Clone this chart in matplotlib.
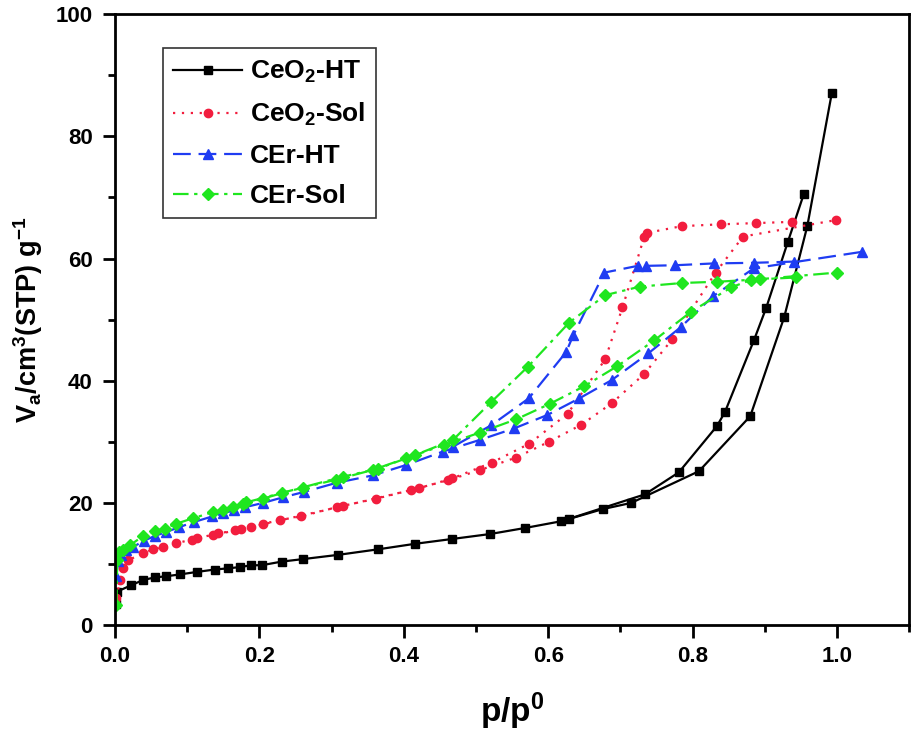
import matplotlib
matplotlib.use('Agg')
import matplotlib.pyplot as plt

plt.rcParams['font.family'] = 'Liberation Sans'
plt.rcParams['font.weight'] = 'bold'
plt.rcParams['mathtext.fontset'] = 'custom'
plt.rcParams['mathtext.rm'] = 'Liberation Sans:bold'
plt.rcParams['mathtext.bf'] = 'Liberation Sans:bold'
plt.rcParams['mathtext.it'] = 'Liberation Sans:bold'
plt.rcParams['mathtext.default'] = 'bf'

# CeO2-HT
ceo2_ht_ads_x = [0.001, 0.003, 0.022, 0.039, 0.055, 0.071, 0.090, 0.113, 0.138, 0.157, 0.173, 0.189,
                 0.203, 0.231, 0.260, 0.309, 0.364, 0.415, 0.467, 0.519, 0.568, 0.618, 0.676, 0.715,
                 0.809, 0.880, 0.927, 0.959, 0.993]
ceo2_ht_ads_y = [3.5, 5.5, 6.5, 7.4, 7.8, 8.0, 8.3, 8.7, 9.1, 9.3, 9.5, 9.8,
                 9.8, 10.4, 10.8, 11.5, 12.4, 13.3, 14.1, 14.9, 15.9, 17.0, 19.0, 20.0,
                 25.2, 34.2, 50.4, 65.3, 87.1]
ceo2_ht_des_x = [0.954, 0.932, 0.902, 0.885, 0.845, 0.834, 0.781, 0.734, 0.629]
ceo2_ht_des_y = [70.5, 62.7, 51.9, 46.6, 34.9, 32.6, 25.0, 21.4, 17.4]

# CeO2-Sol
ceo2_sol_ads_x = [0.002, 0.007, 0.011, 0.018, 0.039, 0.053, 0.067, 0.085, 0.106, 0.136, 0.166, 0.189,
                  0.228, 0.258, 0.307, 0.362, 0.410, 0.461, 0.506, 0.555, 0.601, 0.646, 0.688, 0.733,
                  0.772, 0.832, 0.870, 0.999]
ceo2_sol_ads_y = [4.4, 7.4, 9.3, 10.6, 11.8, 12.4, 12.8, 13.4, 14.0, 14.7, 15.5, 16.1,
                  17.2, 17.8, 19.3, 20.7, 22.1, 23.7, 25.4, 27.4, 30.0, 32.8, 36.3, 41.1,
                  46.8, 57.7, 63.6, 66.3]
ceo2_sol_des_x = [0.938, 0.888, 0.839, 0.785, 0.737, 0.733, 0.703, 0.679, 0.627, 0.574, 0.522, 0.467,
                  0.421, 0.316, 0.205, 0.175, 0.143, 0.113]
ceo2_sol_des_y = [66.0, 65.8, 65.6, 65.3, 64.2, 63.5, 52.0, 43.5, 34.6, 29.7, 26.6, 24.0,
                  22.4, 19.5, 16.5, 15.7, 15.0, 14.2]

# CEr-HT
cer_ht_ads_x = [0.002, 0.004, 0.008, 0.015, 0.025, 0.040, 0.055, 0.070, 0.088, 0.110, 0.135, 0.150,
                0.165, 0.180, 0.205, 0.232, 0.262, 0.307, 0.357, 0.403, 0.454, 0.505, 0.553, 0.599,
                0.643, 0.688, 0.739, 0.784, 0.828, 0.885, 1.035]
cer_ht_ads_y = [8.0, 10.5, 11.5, 12.3, 12.8, 13.8, 14.6, 15.2, 16.0, 16.9, 17.8, 18.3,
                18.8, 19.3, 20.0, 20.9, 21.8, 23.3, 24.5, 26.2, 28.4, 30.3, 32.2, 34.4,
                37.1, 40.1, 44.5, 48.8, 53.8, 58.4, 61.1]
cer_ht_des_x = [0.941, 0.885, 0.830, 0.776, 0.735, 0.724, 0.678, 0.635, 0.625, 0.573, 0.521, 0.468]
cer_ht_des_y = [59.5, 59.3, 59.2, 58.9, 58.8, 58.8, 57.7, 47.5, 44.7, 37.1, 32.7, 29.2]

# CEr-Sol
cer_sol_ads_x = [0.002, 0.003, 0.006, 0.011, 0.021, 0.039, 0.055, 0.069, 0.085, 0.108, 0.136, 0.150,
                 0.164, 0.177, 0.205, 0.231, 0.260, 0.306, 0.357, 0.403, 0.456, 0.505, 0.556, 0.602,
                 0.650, 0.696, 0.747, 0.798, 0.854, 0.881, 1.000]
cer_sol_ads_y = [3.3, 10.6, 12.0, 12.3, 13.1, 14.6, 15.4, 15.8, 16.6, 17.5, 18.5, 18.9,
                 19.4, 19.9, 20.7, 21.6, 22.5, 23.8, 25.4, 27.3, 29.5, 31.5, 33.7, 36.2,
                 39.1, 42.4, 46.6, 51.3, 55.3, 56.5, 57.7]
cer_sol_des_x = [0.943, 0.894, 0.834, 0.786, 0.727, 0.679, 0.629, 0.572, 0.521, 0.468, 0.415, 0.364,
                 0.316, 0.182]
cer_sol_des_y = [56.9, 56.6, 56.2, 56.0, 55.4, 54.0, 49.5, 42.3, 36.5, 30.3, 27.8, 25.6,
                 24.3, 20.1]

fig = plt.figure(figsize=(9.13, 7.32), dpi=100)
ax = fig.add_axes([0.126, 0.146, 0.8697, 0.8347])

red = '#f21d3e'
blue = '#1f3cf2'
green = '#1fe61f'
lw = 1.6

ax.plot(ceo2_ht_ads_x, ceo2_ht_ads_y, color='black', ls='-', lw=lw, marker='s', ms=5.5,
        label=r'CeO$_2$-HT')
ax.plot(ceo2_ht_des_x, ceo2_ht_des_y, color='black', ls='-', lw=lw, marker='s', ms=5.5)

ax.plot(ceo2_sol_ads_x, ceo2_sol_ads_y, color=red, ls=(0, (1, 3)), lw=lw, marker='o', ms=6,
        label=r'CeO$_2$-Sol')
ax.plot(ceo2_sol_des_x, ceo2_sol_des_y, color=red, ls=(0, (1, 3)), lw=lw, marker='o', ms=6)

ax.plot(cer_ht_ads_x, cer_ht_ads_y, color=blue, ls=(0, (8, 3.5)), lw=lw, marker='^', ms=7.5,
        label='CEr-HT')
ax.plot(cer_ht_des_x, cer_ht_des_y, color=blue, ls=(0, (8, 3.5)), lw=lw, marker='^', ms=7.5)

ax.plot(cer_sol_ads_x, cer_sol_ads_y, color=green, ls=(0, (7, 2.5, 1.5, 2.5)), lw=lw, marker='D', ms=6,
        label='CEr-Sol')
ax.plot(cer_sol_des_x, cer_sol_des_y, color=green, ls=(0, (7, 2.5, 1.5, 2.5)), lw=lw, marker='D', ms=6)

ax.set_xlim(0, 1.1)
ax.set_ylim(0, 100)
ax.set_xticks([0.0, 0.2, 0.4, 0.6, 0.8, 1.0])
ax.set_xticks([0.1, 0.3, 0.5, 0.7, 0.9, 1.1], minor=True)
ax.set_yticks([0, 20, 40, 60, 80, 100])
ax.set_yticks([10, 30, 50, 70, 90], minor=True)
ax.set_xticklabels(['0.0', '0.2', '0.4', '0.6', '0.8', '1.0'])

for sp in ax.spines.values():
    sp.set_linewidth(2)
ax.tick_params(which='major', direction='out', length=9, width=2, labelsize=16)
ax.tick_params(which='minor', direction='out', length=5, width=2)
ax.tick_params(axis='x', which='major', pad=6)
ax.tick_params(axis='y', which='major', pad=7)
ax.tick_params(top=False, right=False)
for lab in ax.get_xticklabels() + ax.get_yticklabels():
    lab.set_fontweight('bold')

ax.set_xlabel(r'p/p$^0$', fontsize=24, fontweight='bold', va='top')
ax.xaxis.set_label_coords(0.5, -0.107)
ax.set_ylabel(r'V$_a$/cm$^3$(STP) g$^{-1}$', fontsize=19.5, fontweight='bold')
ax.yaxis.set_label_coords(-0.088, 0.5)

leg = ax.legend(loc='upper left', bbox_to_anchor=(0.06, 0.944), borderaxespad=0,
                fontsize=19, numpoints=1, handlelength=2.6, fancybox=False,
                edgecolor='#333333', framealpha=1, labelspacing=0.6, borderpad=0.4,
                handletextpad=0.3)
leg.get_frame().set_linewidth(1.2)
for t in leg.get_texts():
    t.set_fontweight('bold')

fig.savefig('out.png', dpi=100)
